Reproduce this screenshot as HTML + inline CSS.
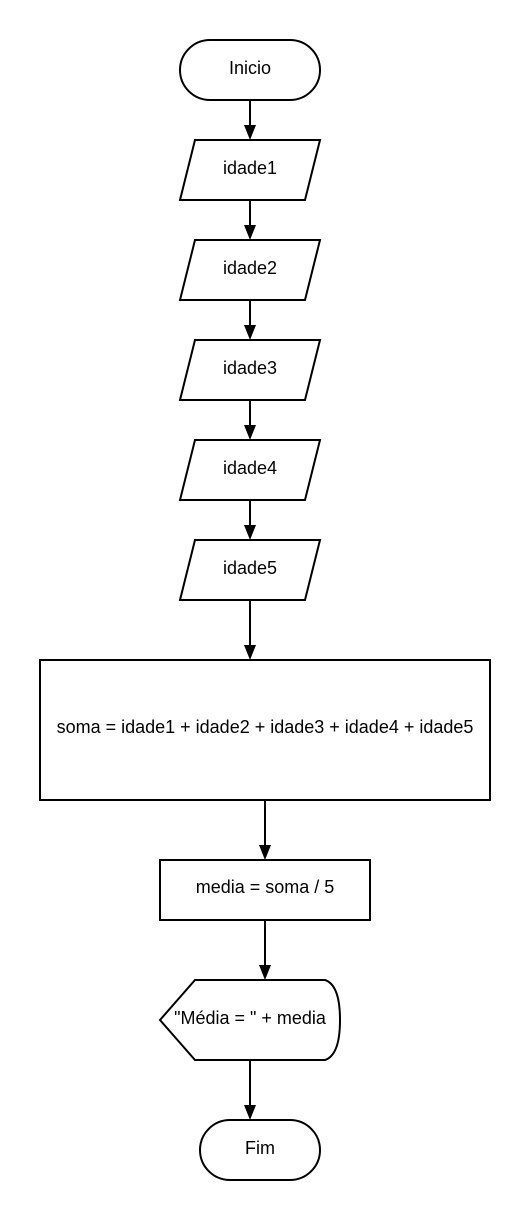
<!DOCTYPE html>
<html><head><meta charset="utf-8"><style>html,body{margin:0;padding:0;background:#fff}svg{display:block}</style></head>
<body>
<svg width="530" height="1220" viewBox="0 0 530 1220" xmlns="http://www.w3.org/2000/svg" font-family="Liberation Sans, sans-serif" font-size="18" fill="none" stroke="#000" stroke-width="2">
<g stroke-width="2">
<rect x="180" y="40" width="140" height="60" rx="30" fill="#fff"/>
<polygon points="195,140 320,140 305,200 180,200" fill="#fff"/>
<polygon points="195,240 320,240 305,300 180,300" fill="#fff"/>
<polygon points="195,340 320,340 305,400 180,400" fill="#fff"/>
<polygon points="195,440 320,440 305,500 180,500" fill="#fff"/>
<polygon points="195,540 320,540 305,600 180,600" fill="#fff"/>
<rect x="40" y="660" width="450" height="140" fill="#fff"/>
<rect x="160" y="860" width="210" height="60" fill="#fff"/>
<path d="M195,980 L325,980 Q340,985 340,1020 Q340,1055 325,1060 L195,1060 L160,1020 Z" fill="#fff"/>
<rect x="200" y="1120" width="120" height="60" rx="30" fill="#fff"/>
</g>
<g stroke-width="2">
<line x1="250" y1="100" x2="250" y2="126"/>
<line x1="250" y1="200" x2="250" y2="226"/>
<line x1="250" y1="300" x2="250" y2="326"/>
<line x1="250" y1="400" x2="250" y2="426"/>
<line x1="250" y1="500" x2="250" y2="526"/>
<line x1="250" y1="600" x2="250" y2="646"/>
<line x1="265" y1="800" x2="265" y2="846"/>
<line x1="265" y1="920" x2="265" y2="966"/>
<line x1="250" y1="1060" x2="250" y2="1106"/>
</g>
<g fill="#000" stroke="none">
<path d="M244,125 L256,125 L250,140 Z"/>
<path d="M244,225 L256,225 L250,240 Z"/>
<path d="M244,325 L256,325 L250,340 Z"/>
<path d="M244,425 L256,425 L250,440 Z"/>
<path d="M244,525 L256,525 L250,540 Z"/>
<path d="M244,645 L256,645 L250,660 Z"/>
<path d="M259,845 L271,845 L265,860 Z"/>
<path d="M259,965 L271,965 L265,980 Z"/>
<path d="M244,1105 L256,1105 L250,1120 Z"/>
</g>
<g fill="#000" stroke="none" text-anchor="middle">
<text x="250" y="74">Inicio</text>
<text x="250" y="174">idade1</text>
<text x="250" y="274">idade2</text>
<text x="250" y="374">idade3</text>
<text x="250" y="474">idade4</text>
<text x="250" y="574">idade5</text>
<text x="265" y="733">soma = idade1 + idade2 + idade3 + idade4 + idade5</text>
<text x="265" y="893">media = soma / 5</text>
<text x="250" y="1024">"Média = " + media</text>
<text x="260" y="1154">Fim</text>
</g>
</svg>
</body></html>
